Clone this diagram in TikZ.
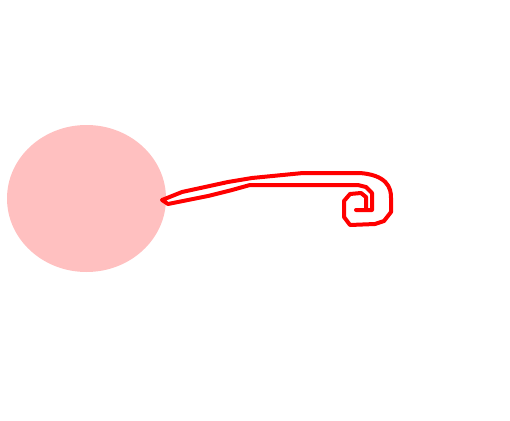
\documentclass[tikz,border=0pt]{standalone}
\definecolor{blobpink}{HTML}{FFC0C0}
\tikzset{doodle/.style={draw=red, line width=4pt, line join=round, line cap=round}}
\begin{document}
\begin{tikzpicture}[x=1pt,y=-1pt]
\useasboundingbox (0,0) rectangle (510,420);
\fill[blobpink] (86.5,198.5) ellipse [x radius=79.5, y radius=73.5];
\coordinate (s) at (162,200);
\draw[doodle] (s) -- (182,192) -- (228,182) -- (252,178) -- (303,173) -- (360,173)
  .. controls (385,175) and (392,186) .. (391,200) -- (391,212) -- (384,221) -- (375,224)
  -- (350,225) -- (344,217) -- (344,201) -- (350,194) -- (361,193) -- (366,197)
  -- (366,210) -- (356,210) -- (372,210) -- (372,193) -- (366,187) -- (358,185)
  -- (300,185) -- (250,185) -- (232,190) -- (208,196) -- (168,204) -- cycle;
\end{tikzpicture}
\end{document}
